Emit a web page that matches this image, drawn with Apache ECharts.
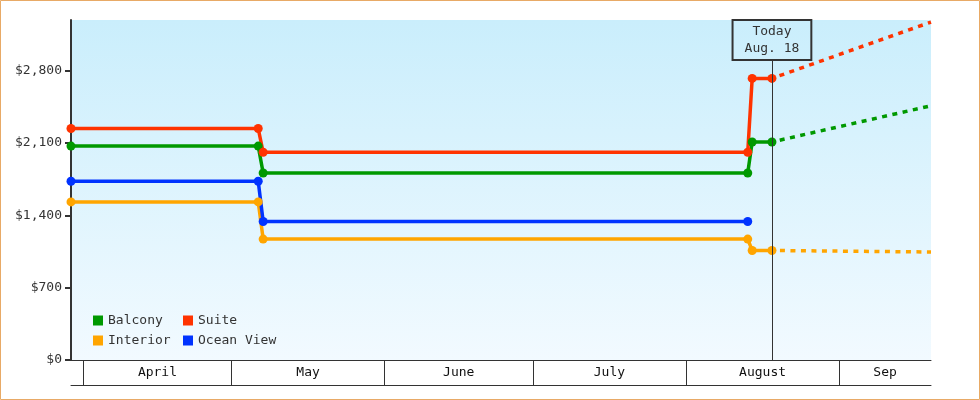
<!DOCTYPE html>
<html>
<head>
<meta charset="utf-8">
<script src="https://cdn.jsdelivr.net/npm/echarts@6/dist/echarts.min.js"></script>
<style>
html,body{margin:0;padding:0;background:#fff;}
#chart{width:980px;height:400px;}
</style>
</head>
<body>
<div id="chart"></div>
<script>
// x values are days counted from April 1 (day 0)
const xMin = -2.5;
const xMax = 171.6;
const monthNames = ['April', 'May', 'June', 'July', 'August', 'Sep'];
const monthStarts = [0, 30, 61, 91, 122, 153];
const monthEnds = [30, 61, 91, 122, 153, 183];
const yTicks = [0, 700, 1400, 2100, 2800];
const yMax = 3290;

const stepDays = [-2.5, 35.4, 36.4, 134.5, 135.4, 139.4];
const balcony = [2070, 2070, 1810, 1810, 2110, 2110];
const suite = [2240, 2240, 2010, 2010, 2725, 2725];
const interior = [1530, 1530, 1170, 1170, 1060, 1060];
const oceanDays = [-2.5, 35.4, 36.4, 134.5];
const oceanView = [1730, 1730, 1340, 1340];

const forecastDays = [139.4, 171.6];
const balconyForecast = [2110, 2460];
const suiteForecast = [2725, 3270];
const interiorForecast = [1060, 1045];

const todayDay = 139.4;
const todayLabel = 'Today\nAug. 18';
const todayBoxBase = 2903;

const colors = { Balcony: '#009900', Suite: '#ff3300', Interior: '#ffa500', 'Ocean View': '#0033ff' };
const FONT = 'DejaVu Sans Mono';

const pair = (xs, ys) => xs.map((x, i) => [x, ys[i]]);
const monthMids = monthStarts.map((s, i) => (Math.max(s, xMin) + Math.min(monthEnds[i], xMax)) / 2);

function solid(name, xs, ys, extra) {
  return Object.assign({
    name, type: 'line', data: pair(xs, ys),
    symbol: 'circle', symbolSize: 9,
    lineStyle: { width: 3.5, color: colors[name] },
    itemStyle: { color: colors[name] },
    animation: false, z: 3
  }, extra || {});
}
function dashed(name, xs, ys) {
  return {
    name, type: 'line', data: pair(xs, ys),
    showSymbol: false, symbol: 'none',
    lineStyle: { width: 3.5, color: colors[name], type: [5, 5.5], dashOffset: -8 },
    itemStyle: { color: colors[name] },
    animation: false, z: 2
  };
}

const chart = echarts.init(document.getElementById('chart'), null, { renderer: 'canvas' });
const legendText = { fontFamily: FONT, fontSize: 13, color: '#333' };
chart.setOption({
  animation: false,
  textStyle: { fontFamily: FONT },
  grid: {
    left: 71, right: 49, top: 20, bottom: 40, show: true, borderWidth: 0,
    backgroundColor: new echarts.graphic.LinearGradient(0, 0, 0, 1, [
      { offset: 0, color: '#caeefc' }, { offset: 1, color: '#f2faff' }
    ])
  },
  graphic: [{
    type: 'rect', silent: true, z: 100,
    shape: { x: 0.5, y: 0.5, width: 979, height: 399 },
    style: { fill: 'none', stroke: '#e8aa66', lineWidth: 1 }
  }],
  legend: [{
    data: ['Balcony', 'Interior'], orient: 'vertical', left: 93, top: 314, padding: 0,
    itemWidth: 10, itemHeight: 10, itemGap: 7, icon: 'rect',
    textStyle: legendText, selectedMode: false
  }, {
    data: ['Suite', 'Ocean View'], orient: 'vertical', left: 183, top: 314, padding: 0,
    itemWidth: 10, itemHeight: 10, itemGap: 7, icon: 'rect',
    textStyle: legendText, selectedMode: false
  }],
  xAxis: [{
    type: 'value', min: xMin, max: xMax, position: 'bottom',
    axisLine: { show: true, onZero: false, lineStyle: { color: '#333', width: 1 } },
    axisTick: { show: true, customValues: monthStarts, length: 25, lineStyle: { color: '#333', width: 1 } },
    axisLabel: {
      show: true, customValues: monthMids, margin: 6,
      fontFamily: FONT, fontSize: 13, color: '#111',
      formatter: (v) => {
        let best = 0;
        monthMids.forEach((m, i) => { if (Math.abs(m - v) < Math.abs(monthMids[best] - v)) best = i; });
        return monthNames[best];
      }
    },
    splitLine: { show: false }
  }, {
    type: 'value', min: xMin, max: xMax, position: 'bottom', offset: 25,
    axisLine: { show: true, onZero: false, lineStyle: { color: '#333', width: 1 } },
    axisTick: { show: false }, axisLabel: { show: false }, splitLine: { show: false }
  }],
  yAxis: {
    type: 'value', min: 0, max: yMax,
    axisLine: { show: true, onZero: false, lineStyle: { color: '#333', width: 2 } },
    axisTick: { show: true, customValues: yTicks, length: 6, lineStyle: { color: '#333', width: 2 } },
    axisLabel: {
      customValues: yTicks, margin: 9, fontFamily: FONT, fontSize: 13, color: '#333',
      formatter: (v) => '$' + Number(v).toLocaleString('en-US')
    },
    splitLine: { show: false }
  },
  series: [
    solid('Interior', stepDays, interior),
    solid('Ocean View', oceanDays, oceanView),
    solid('Balcony', stepDays, balcony, {
      markLine: {
        silent: true, symbol: ['none', 'none'], animation: false,
        lineStyle: { color: '#333', width: 1, type: 'solid' },
        label: {
          show: true, position: 'end', distance: 0, formatter: todayLabel,
          fontFamily: FONT, fontSize: 13, lineHeight: 17, color: '#333',
          borderColor: '#333', borderWidth: 1, padding: [3, 12, 3, 12],
          backgroundColor: 'transparent'
        },
        data: [[{ coord: [todayDay, 0] }, { coord: [todayDay, todayBoxBase] }]]
      }
    }),
    solid('Suite', stepDays, suite),
    dashed('Balcony', forecastDays, balconyForecast),
    dashed('Suite', forecastDays, suiteForecast),
    dashed('Interior', forecastDays, interiorForecast)
  ]
});
</script>
</body>
</html>
